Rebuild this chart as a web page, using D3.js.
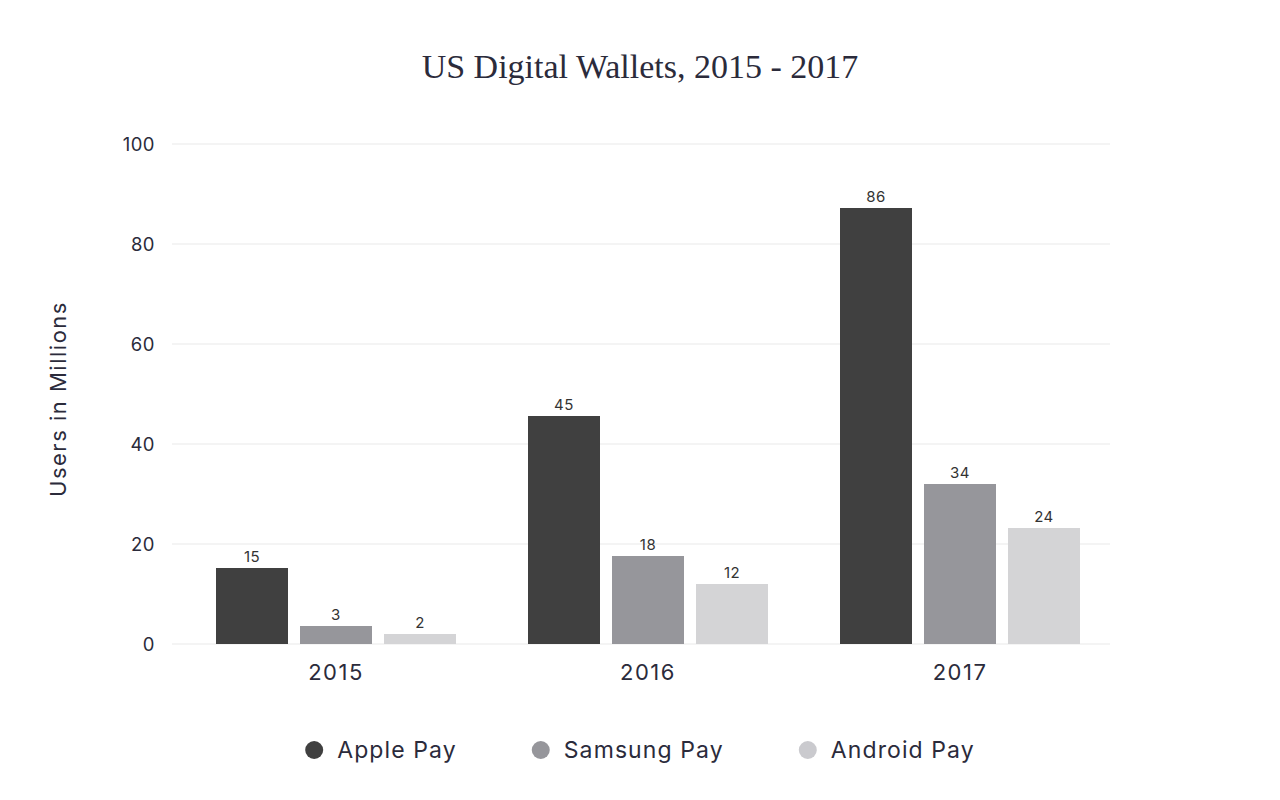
<!DOCTYPE html>
<html>
<head>
<meta charset="utf-8">
<script src="https://cdn.jsdelivr.net/npm/d3@7"></script>
<style>
  html, body { margin: 0; padding: 0; background: #ffffff; }
  svg { display: block; }
</style>
</head>
<body>
<svg id="chart" width="1280" height="800"></svg>
<script>
// ---- data ----
const years = ["2015", "2016", "2017"];
const seriesNames = ["Apple Pay", "Samsung Pay", "Android Pay"];
const applePay = [15.2, 45.6, 87.2];
const samsungPay = [3.6, 17.6, 32];
const androidPay = [2, 12, 23.2];
const appleLabels = ["15", "45", "86"];
const samsungLabels = ["3", "18", "34"];
const androidLabels = ["2", "12", "24"];
const yTicks = [0, 20, 40, 60, 80, 100];
const colors = ["#404040", "#96969b", "#d4d4d6"];
const legendColors = ["#404040", "#96969b", "#cacace"];

const seriesValues = [applePay, samsungPay, androidPay];
const seriesLabels = [appleLabels, samsungLabels, androidLabels];

const svg = d3.select("#chart");
const textColor = "#2b2b3b";
const sans = "Inter, 'Open Sans', sans-serif";

// scales
const x0 = d3.scaleBand().domain(years).range([180, 1116]).paddingInner(72 / 312).paddingOuter(36 / 312);
const x1 = d3.scaleBand().domain(seriesNames).range([0, x0.bandwidth()]).paddingInner(12 / 84).paddingOuter(0);
const y = d3.scaleLinear().domain([0, 100]).range([644, 144]);

// title
svg.append("text")
  .attr("x", 640).attr("y", 78)
  .attr("text-anchor", "middle")
  .attr("font-family", "'Liberation Serif', 'DejaVu Serif', serif")
  .attr("font-size", 34)
  .attr("fill", textColor)
  .text("US Digital Wallets, 2015 - 2017");

// gridlines
const grid = svg.append("g");
grid.selectAll("line").data(yTicks).enter().append("line")
  .attr("x1", 172).attr("x2", 1110)
  .attr("y1", d => y(d)).attr("y2", d => y(d))
  .attr("stroke", "#f1f1f1").attr("stroke-width", 1.5);

// y axis
const yAxis = d3.axisLeft(y).tickValues(yTicks).tickSize(0).tickPadding(0);
const gy = svg.append("g").attr("transform", "translate(155,0)").call(yAxis);
gy.select(".domain").remove();
gy.selectAll("text")
  .attr("font-family", sans).attr("font-size", 18.5)
  .attr("letter-spacing", 0.5)
  .attr("fill", textColor).attr("dy", "0.35em");

// x axis
const xAxis = d3.axisBottom(x0).tickSize(0).tickPadding(0);
const gx = svg.append("g").attr("transform", "translate(0,672)").call(xAxis);
gx.select(".domain").remove();
gx.selectAll("text")
  .attr("font-family", sans).attr("font-size", 22)
  .attr("letter-spacing", 1.5)
  .attr("fill", textColor).attr("dy", "0.35em");

// y axis title
svg.append("text")
  .attr("transform", "translate(66,399) rotate(-90)")
  .attr("text-anchor", "middle")
  .attr("font-family", sans).attr("font-size", 22)
  .attr("letter-spacing", 1.5)
  .attr("fill", textColor)
  .text("Users in Millions");

// bars
const rows = years.map((yr, i) => ({
  year: yr,
  items: seriesNames.map((s, j) => ({ series: s, value: seriesValues[j][i], label: seriesLabels[j][i], color: colors[j] }))
}));

const groups = svg.append("g").selectAll("g").data(rows).enter().append("g")
  .attr("transform", d => `translate(${x0(d.year)},0)`);

groups.selectAll("rect").data(d => d.items).enter().append("rect")
  .attr("x", d => x1(d.series))
  .attr("width", x1.bandwidth())
  .attr("y", d => y(d.value))
  .attr("height", d => y(0) - y(d.value))
  .attr("fill", d => d.color);

groups.selectAll("text").data(d => d.items).enter().append("text")
  .attr("x", d => x1(d.series) + x1.bandwidth() / 2)
  .attr("y", d => y(d.value) - 6)
  .attr("text-anchor", "middle")
  .attr("font-family", sans).attr("font-size", 15)
  .attr("letter-spacing", 0.5)
  .attr("fill", "#333333")
  .text(d => d.label);

// legend
const legend = svg.append("g");
const items = legend.selectAll("g").data(seriesNames).enter().append("g");
items.append("circle").attr("r", 9).attr("cx", 0).attr("cy", 0)
  .attr("fill", (d, i) => legendColors[i]);
items.append("text").attr("x", 23).attr("y", 0).attr("dy", "0.35em")
  .attr("font-family", sans)
  .attr("font-size", 23).attr("letter-spacing", 1.1).attr("fill", textColor)
  .text(d => d);
const widths = [];
items.each(function () {
  widths.push(this.querySelector("text").getBBox().width);
});
const gap = 84;
const positions = [];
let cursor = 0;
widths.forEach((w) => { positions.push(cursor); cursor += 23 + w + gap; });
const total = positions[positions.length - 1] + 23 + widths[widths.length - 1] + 9;
const startX = 640 - total / 2 + 9;
items.attr("transform", (d, i) => `translate(${startX + positions[i]},750)`);
</script>
</body>
</html>
